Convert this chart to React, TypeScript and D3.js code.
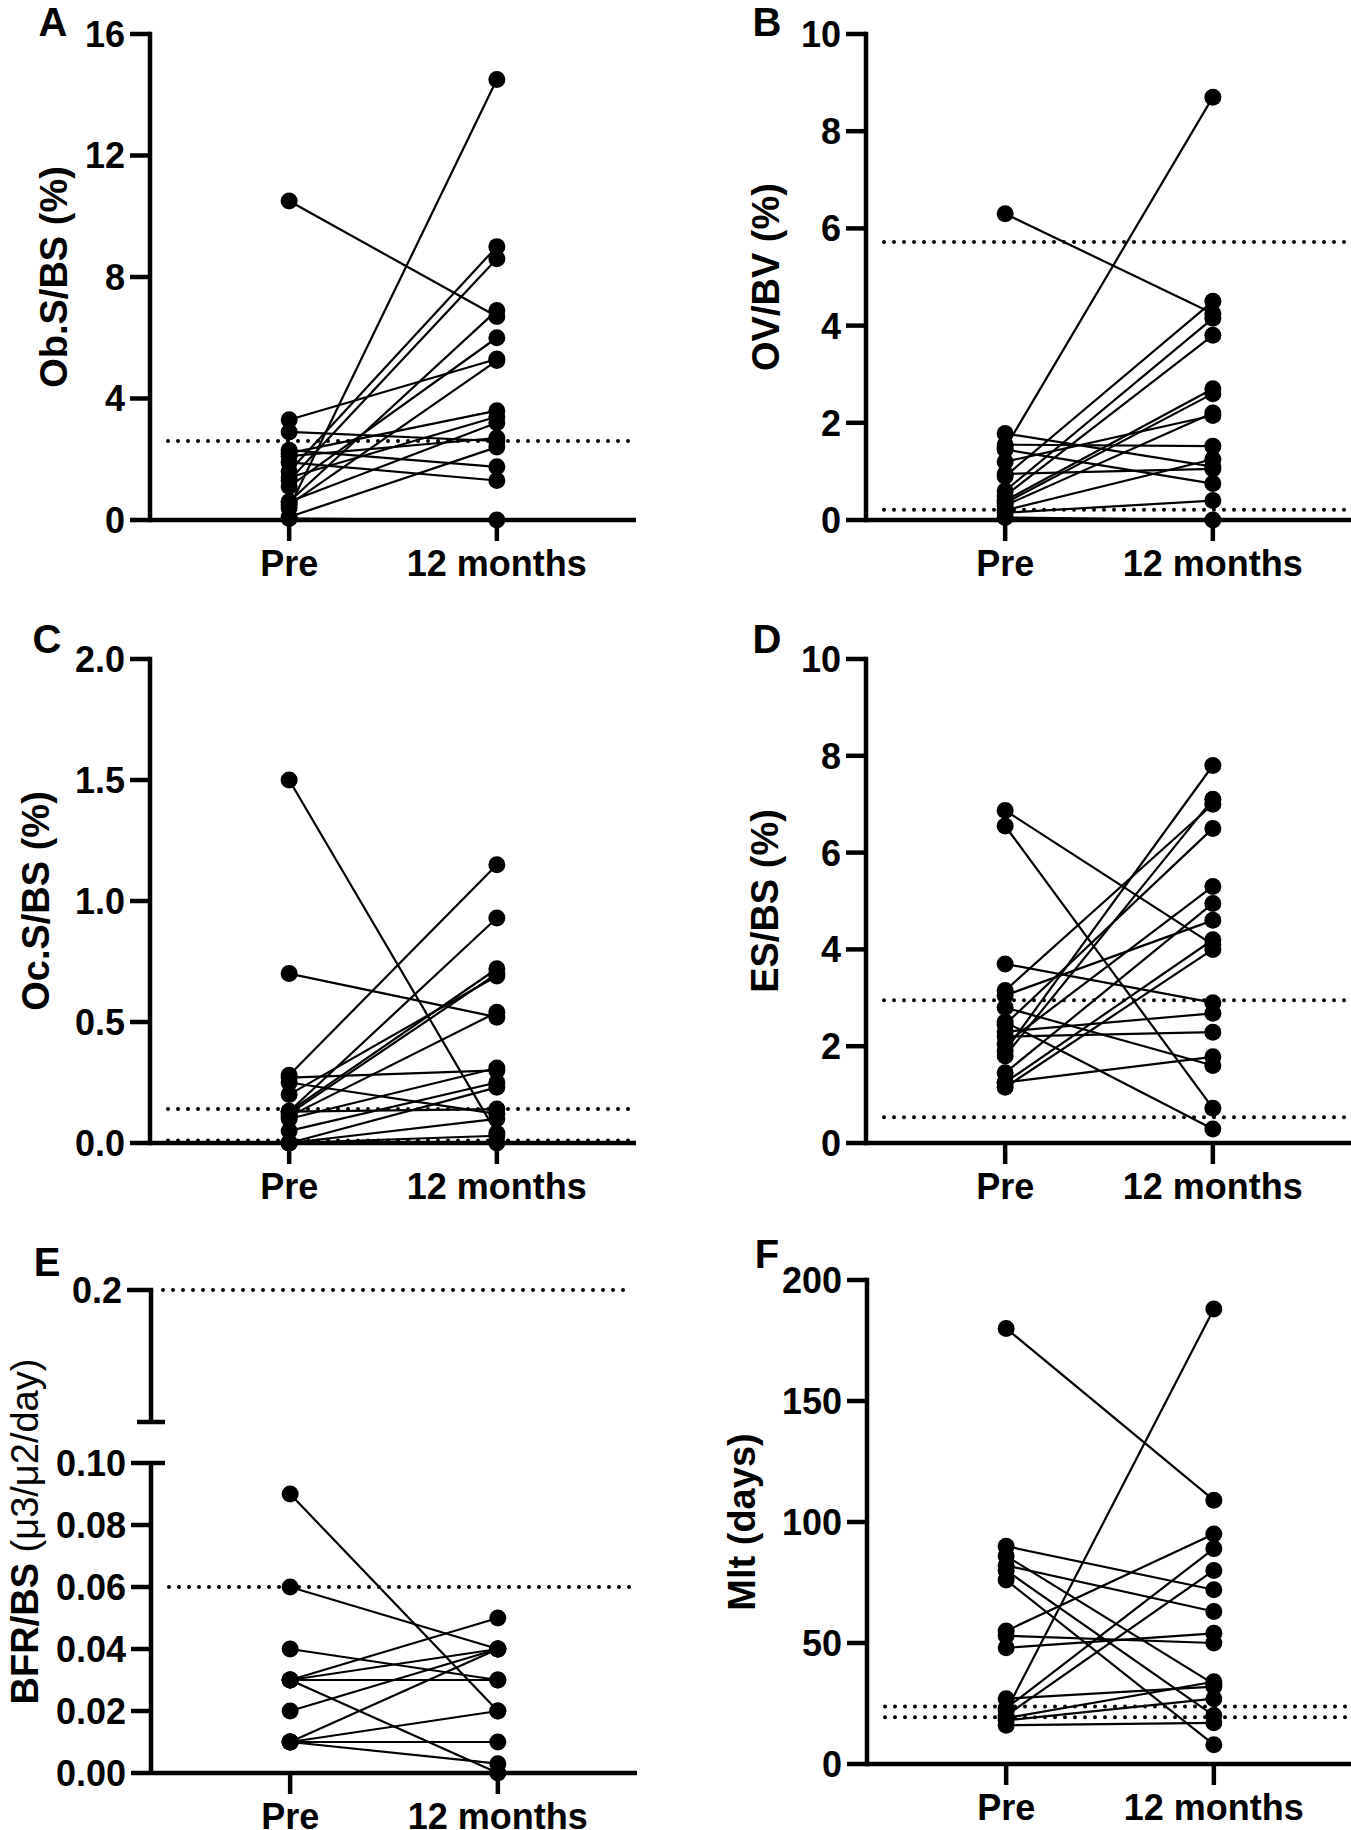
import React from 'react';
import * as d3 from 'd3';

const categories = ['Pre', '12 months'];

// Panel A: Ob.S/BS (%)
const aPre = [10.5, 0.4, 3.3, 2.9, 2.3, 1.9, 1.6, 1.3, 0.6, 1.1, 0.5, 2.2, 1.4, 0.6, 0.1, 0.05, 2.1];
const a12 = [6.7, 14.5, 5.3, 2.6, 1.75, 1.3, 9.0, 8.6, 6.9, 6.0, 5.25, 3.6, 3.4, 3.2, 2.4, 0, 2.7];
const aRef = [2.6];
const aTicks = [0, 4, 8, 12, 16];

// Panel B: OV/BV (%)
const bPre = [6.3, 1.48, 1.78, 1.55, 1.45, 0.95, 0.9, 0.6, 0.5, 0.4, 0.35, 0.3, 1.2, 0.2, 0.15, 0.05];
const b12 = [4.25, 8.7, 1.1, 1.52, 0.75, 1.05, 4.5, 4.15, 3.8, 2.7, 2.6, 2.2, 2.15, 1.25, 0.4, 0];
const bRef = [5.72, 0.21];
const bTicks = [0, 2, 4, 6, 8, 10];

// Panel C: Oc.S/BS (%)
const cPre = [1.5, 0.7, 0.28, 0.27, 0.25, 0.13, 0.13, 0.12, 0.11, 0.13, 0.1, 0.05, 0.0, 0.0, 0.0, 0.0, 0.2];
const c12 = [0.04, 0.52, 1.15, 0.3, 0.12, 0.93, 0.72, 0.7, 0.54, 0.14, 0.31, 0.25, 0.23, 0.1, 0.03, 0.0, 0.69];
const cRef = [0.14, 0.01];
const cTicks = [0, 0.5, 1.0, 1.5, 2.0];

// Panel D: ES/BS (%)
const dPre = [6.87, 6.55, 3.7, 3.15, 3.05, 2.8, 2.5, 2.3, 2.2, 1.25, 1.9, 1.8, 2.05, 1.45, 1.25, 1.15, 2.45];
const d12 = [4.1, 0.72, 2.9, 7.0, 4.6, 1.6, 0.29, 2.68, 2.29, 1.78, 7.8, 7.1, 5.3, 4.95, 4.2, 4.0, 6.5];
const dRef = [2.95, 0.53];
const dTicks = [0, 2, 4, 6, 8, 10];

// Panel E: BFR/BS (broken axis)
const ePre = [0.09, 0.06, 0.04, 0.03, 0.03, 0.03, 0.03, 0.02, 0.01, 0.01, 0.01, 0.01];
const e12 = [0.02, 0.04, 0.03, 0.05, 0.04, 0.03, 0.0, 0.04, 0.04, 0.02, 0.01, 0.003];
const eRef = [0.06];
const eRefUpper = [0.2];
const eTicks = [0, 0.02, 0.04, 0.06, 0.08, 0.1];
const eUpperTicks = [0.2];

// Panel F: Mlt (days)
const fPre = [180, 22, 90, 82, 86, 80, 76, 55, 53, 48, 27, 23, 20, 19, 18, 16];
const f12 = [109, 188, 72, 63, 33, 20, 8, 95, 50, 54, 32, 89, 80, 34, 27, 17];
const fRef = [23.8, 19.3];
const fTicks = [0, 50, 100, 150, 200];

const FONT = '"Liberation Sans", Arial, Helvetica, sans-serif';
const W = 486;
const AXW = 4.5;
const TICK = 20;

type PanelProps = {
  letter: string;
  letterX: number;
  letterY: number;
  axisX: number;
  top: number;
  bottom: number;
  domain: [number, number];
  ticks: number[];
  fmt: (v: number) => string;
  label: React.ReactNode;
  labelX: number;
  pre: number[];
  post: number[];
  refs: number[];
  upper?: { top: number; bottom: number; domain: [number, number]; ticks: number[]; refs: number[]; fmt: (v: number) => string };
};

function Panel(p: PanelProps) {
  const x = d3.scalePoint<string>().domain(categories).range([p.axisX, p.axisX + W]).padding(0.67);
  const y = d3.scaleLinear().domain(p.domain).range([p.bottom, p.top]);
  const xPre = x('Pre') as number;
  const xPost = x('12 months') as number;
  const refStart = p.axisX + 18;
  const refEnd = p.axisX + W - 6;
  const up = p.upper;
  const yu = up ? d3.scaleLinear().domain(up.domain).range([up.bottom, up.top]) : null;
  const labelCenter = up ? (up.top + p.bottom) / 2 : (p.top + p.bottom) / 2;

  return (
    <g>
      <text x={p.letterX} y={p.letterY} textAnchor="middle" fontFamily={FONT} fontWeight="bold" fontSize={40}>
        {p.letter}
      </text>
      <text
        transform={`translate(${p.labelX},${labelCenter}) rotate(-90)`}
        textAnchor="middle"
        dominantBaseline="central"
        fontFamily={FONT}
        fontWeight="bold"
        fontSize={38}
      >
        {p.label}
      </text>

      {/* reference dotted lines */}
      {p.refs.map((r, i) => (
        <line key={'r' + i} x1={refStart} x2={refEnd} y1={y(r)} y2={y(r)} stroke="#000" strokeWidth={4}
          strokeDasharray="0 10" strokeLinecap="round" />
      ))}
      {up && yu && up.refs.map((r, i) => (
        <line key={'ru' + i} x1={p.axisX + 12} x2={refEnd} y1={yu(r)} y2={yu(r)} stroke="#000" strokeWidth={4}
          strokeDasharray="0 10" strokeLinecap="round" />
      ))}

      {/* y axis */}
      <line x1={p.axisX} x2={p.axisX} y1={p.top} y2={p.bottom} stroke="#000" strokeWidth={AXW}
        strokeLinecap={up ? 'butt' : 'square'} />
      {p.ticks.map((t, i) => (
        <g key={'t' + i}>
          <line x1={p.axisX - TICK} x2={p.axisX} y1={y(t)} y2={y(t)} stroke="#000" strokeWidth={AXW} />
          <text x={p.axisX - TICK - 5} y={y(t)} dy="0.36em" textAnchor="end" fontFamily={FONT} fontWeight="bold" fontSize={36}>
            {p.fmt(t)}
          </text>
        </g>
      ))}
      {up && (
        <line x1={p.axisX} x2={p.axisX + 14} y1={p.top} y2={p.top} stroke="#000" strokeWidth={AXW} />
      )}
      {up && yu && (
        <g>
          <line x1={p.axisX} x2={p.axisX} y1={up.top} y2={up.bottom} stroke="#000" strokeWidth={AXW} />
          <line x1={p.axisX - 14} x2={p.axisX + 14} y1={up.bottom} y2={up.bottom} stroke="#000" strokeWidth={AXW} />
          {up.ticks.map((t, i) => (
            <g key={'ut' + i}>
              <line x1={p.axisX - TICK - 4} x2={p.axisX + AXW / 2} y1={yu(t)} y2={yu(t)} stroke="#000" strokeWidth={AXW} />
              <text x={p.axisX - TICK - 9} y={yu(t)} dy="0.36em" textAnchor="end" fontFamily={FONT} fontWeight="bold" fontSize={36}>
                {up.fmt(t)}
              </text>
            </g>
          ))}
        </g>
      )}

      {/* x axis */}
      <line x1={p.axisX} x2={p.axisX + W} y1={p.bottom} y2={p.bottom} stroke="#000" strokeWidth={AXW} />
      {categories.map((c) => (
        <g key={c}>
          <line x1={x(c)} x2={x(c)} y1={p.bottom} y2={p.bottom + 21} stroke="#000" strokeWidth={AXW} />
          <text x={x(c)} y={p.bottom + 56} textAnchor="middle" fontFamily={FONT} fontWeight="bold" fontSize={36}>
            {c}
          </text>
        </g>
      ))}

      {/* paired lines */}
      {p.pre.map((v, i) => (
        <line key={'l' + i} x1={xPre} x2={xPost} y1={y(v)} y2={y(p.post[i])} stroke="#000" strokeWidth={2.2} />
      ))}
      {p.pre.map((v, i) => (
        <circle key={'cp' + i} cx={xPre} cy={y(v)} r={8.5} fill="#000" />
      ))}
      {p.post.map((v, i) => (
        <circle key={'cq' + i} cx={xPost} cy={y(v)} r={8.5} fill="#000" />
      ))}
    </g>
  );
}

const int = (v: number) => d3.format('d')(v);
const one = (v: number) => d3.format('.1f')(v);
const two = (v: number) => d3.format('.2f')(v);

export default function App() {
  return (
    <svg width={1351} height={1830} viewBox="0 0 1351 1830"
      style={{ position: 'absolute', left: 0, top: 0, background: '#fff' }}>
      <rect x={0} y={0} width={1351} height={1830} fill="#fff" />
      <Panel letter="A" letterX={53} letterY={36} axisX={150} top={34} bottom={520} domain={[0, 16]}
        ticks={aTicks} fmt={int} label="Ob.S/BS (%)" labelX={54} pre={aPre} post={a12} refs={aRef} />
      <Panel letter="B" letterX={767} letterY={36} axisX={866} top={34} bottom={520} domain={[0, 10]}
        ticks={bTicks} fmt={int} label="OV/BV (%)" labelX={766} pre={bPre} post={b12} refs={bRef} />
      <Panel letter="C" letterX={47} letterY={653} axisX={150} top={659} bottom={1143} domain={[0, 2]}
        ticks={cTicks} fmt={one} label="Oc.S/BS (%)" labelX={36} pre={cPre} post={c12} refs={cRef} />
      <Panel letter="D" letterX={767} letterY={653} axisX={866} top={659} bottom={1143} domain={[0, 10]}
        ticks={dTicks} fmt={int} label="ES/BS (%)" labelX={765} pre={dPre} post={d12} refs={dRef} />
      <Panel letter="E" letterX={47} letterY={1276} axisX={151} top={1463} bottom={1773} domain={[0, 0.1]}
        ticks={eTicks} fmt={two}
        label={<><tspan fontWeight="bold">BFR/BS </tspan><tspan fontWeight="normal">(μ3/μ2/day)</tspan></>}
        labelX={25} pre={ePre} post={e12} refs={eRef}
        upper={{ top: 1290, bottom: 1422, domain: [0.15, 0.2], ticks: eUpperTicks, refs: eRefUpper, fmt: one }} />
      <Panel letter="F" letterX={767} letterY={1268} axisX={867} top={1280} bottom={1764} domain={[0, 200]}
        ticks={fTicks} fmt={int} label="Mlt (days)" labelX={742} pre={fPre} post={f12} refs={fRef} />
    </svg>
  );
}
